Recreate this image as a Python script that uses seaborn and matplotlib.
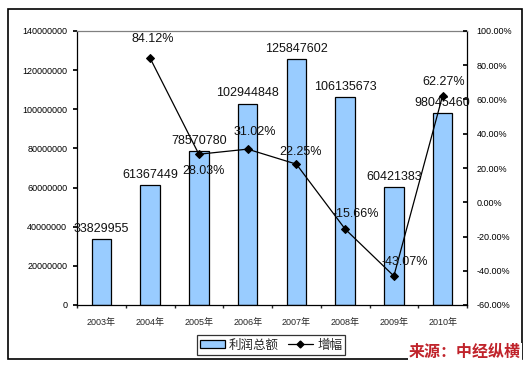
import numpy as np
import pandas as pd
import matplotlib
matplotlib.use("Agg")
import matplotlib.pyplot as plt
from matplotlib.patches import Rectangle, Patch
from matplotlib.lines import Line2D
from matplotlib.ticker import FuncFormatter
import seaborn as sns

years = ["2003年", "2004年", "2005年", "2006年", "2007年", "2008年", "2009年", "2010年"]
profit = [33829955, 61367449, 78570780, 102944848, 125847602, 106135673, 60421383, 98045460]
growth = [np.nan, 84.12, 28.03, 31.02, 22.25, -15.66, -43.07, 62.27]
growth_labels = ["", "84.12%", "28.03%", "31.02%", "22.25%", "-15.66%", "-43.07%", "62.27%"]
left_ticks = [0, 20000000, 40000000, 60000000, 80000000, 100000000, 120000000, 140000000]
right_ticks = [-60, -40, -20, 0, 20, 40, 60, 80, 100]

sns.set_theme(style="white")
plt.rcParams['font.family'] = ['Liberation Sans', 'Noto Sans CJK SC', 'DejaVu Sans']

df = pd.DataFrame({"year": years, "profit": profit, "growth": growth, "pos": np.arange(len(years))})

fig = plt.figure(figsize=(5.29, 3.66), dpi=100)
ax = fig.add_axes([77/529, 1-305/366, 390/529, 274/366])

sns.barplot(data=df, x="year", y="profit", ax=ax, color="#99CCFF", saturation=1,
            width=0.4, edgecolor="black", linewidth=0.9)
ax.set_xlim(-0.5, 7.5)
ax.set_ylim(0, 140000000)
ax.set_yticks(left_ticks)
ax.yaxis.set_major_formatter(FuncFormatter(lambda v, p: f"{int(v)}"))
ax.set_xlabel("")
ax.set_ylabel("")
ax.tick_params(axis="y", labelsize=6.5, length=3, direction="out", left=True, pad=4, colors="black")
ax.tick_params(axis="x", labelsize=6.5, length=0, pad=9)
ax.set_xticks(np.arange(-0.5, 8.0, 1.0), minor=True)
ax.tick_params(axis="x", which="minor", length=2.5, bottom=True, direction="out")
for s in ["left", "bottom", "right"]:
    ax.spines[s].set_color("black")
    ax.spines[s].set_linewidth(0.9)
ax.spines["top"].set_color("#808080")
ax.spines["top"].set_linewidth(0.9)

for i, v in enumerate(profit):
    ax.annotate(f"{v}", xy=(i, v), xytext=(0, 3), textcoords="offset points",
                ha="center", va="bottom", fontsize=9, color="#111111")

ax2 = ax.twinx()
ax2.set_position(ax.get_position())
sns.lineplot(data=df.dropna(), x="pos", y="growth", ax=ax2, color="black", linewidth=0.9,
             marker="D", markersize=4.5, markeredgecolor="black")
ax2.set_xlim(-0.5, 7.5)
ax2.set_ylim(-60, 100)
ax2.set_yticks(right_ticks)
ax2.yaxis.set_major_formatter(FuncFormatter(lambda v, p: f"{v:.2f}%"))
ax2.set_xlabel("")
ax2.set_ylabel("")
ax2.tick_params(axis="y", labelsize=6.5, length=3, direction="in", right=True, pad=7, colors="black")
for s in ax2.spines.values():
    s.set_visible(False)

offsets = {1: (2, 14), 2: (3, -12), 3: (5, 12), 4: (3, 9), 5: (8, 11), 6: (8, 10), 7: (1, 10)}
for i, lab in enumerate(growth_labels):
    if lab:
        dx, dy = offsets[i]
        ax2.annotate(lab, xy=(i, growth[i]), xytext=(dx, dy), textcoords="offset points",
                     ha="center", va="center", fontsize=9, color="#111111")

handles = [Patch(facecolor="#99CCFF", edgecolor="black", linewidth=0.9),
           Line2D([0], [0], color="black", lw=0.9, marker="D", markersize=3.5)]
leg = fig.legend(handles, ["利润总额", "增幅"], loc="center", bbox_to_anchor=(271/529, 1-345/366),
                 ncol=2, fontsize=9, frameon=True, fancybox=False, edgecolor="black",
                 handlelength=2.0, handleheight=0.6, columnspacing=0.7, handletextpad=0.35,
                 borderpad=0.25, borderaxespad=0)
leg.get_frame().set_linewidth(0.9)
for t in leg.get_texts():
    t.set_family(['Noto Sans CJK SC', 'DejaVu Sans'])

fig.patches.append(Rectangle((8/529, 1-359/366), 514/529, 350/366, transform=fig.transFigure,
                             fill=False, edgecolor="black", linewidth=1.2))
fig.text(521/529, 1-352/366, "来源：中经纵横", ha="right", va="center", fontsize=11.5,
         fontweight="bold", style="italic", color="#C0232B", family=['Noto Sans CJK SC', 'DejaVu Sans'],
         bbox=dict(facecolor="white", edgecolor="none", pad=1))

fig.savefig("out.png", dpi=100)
